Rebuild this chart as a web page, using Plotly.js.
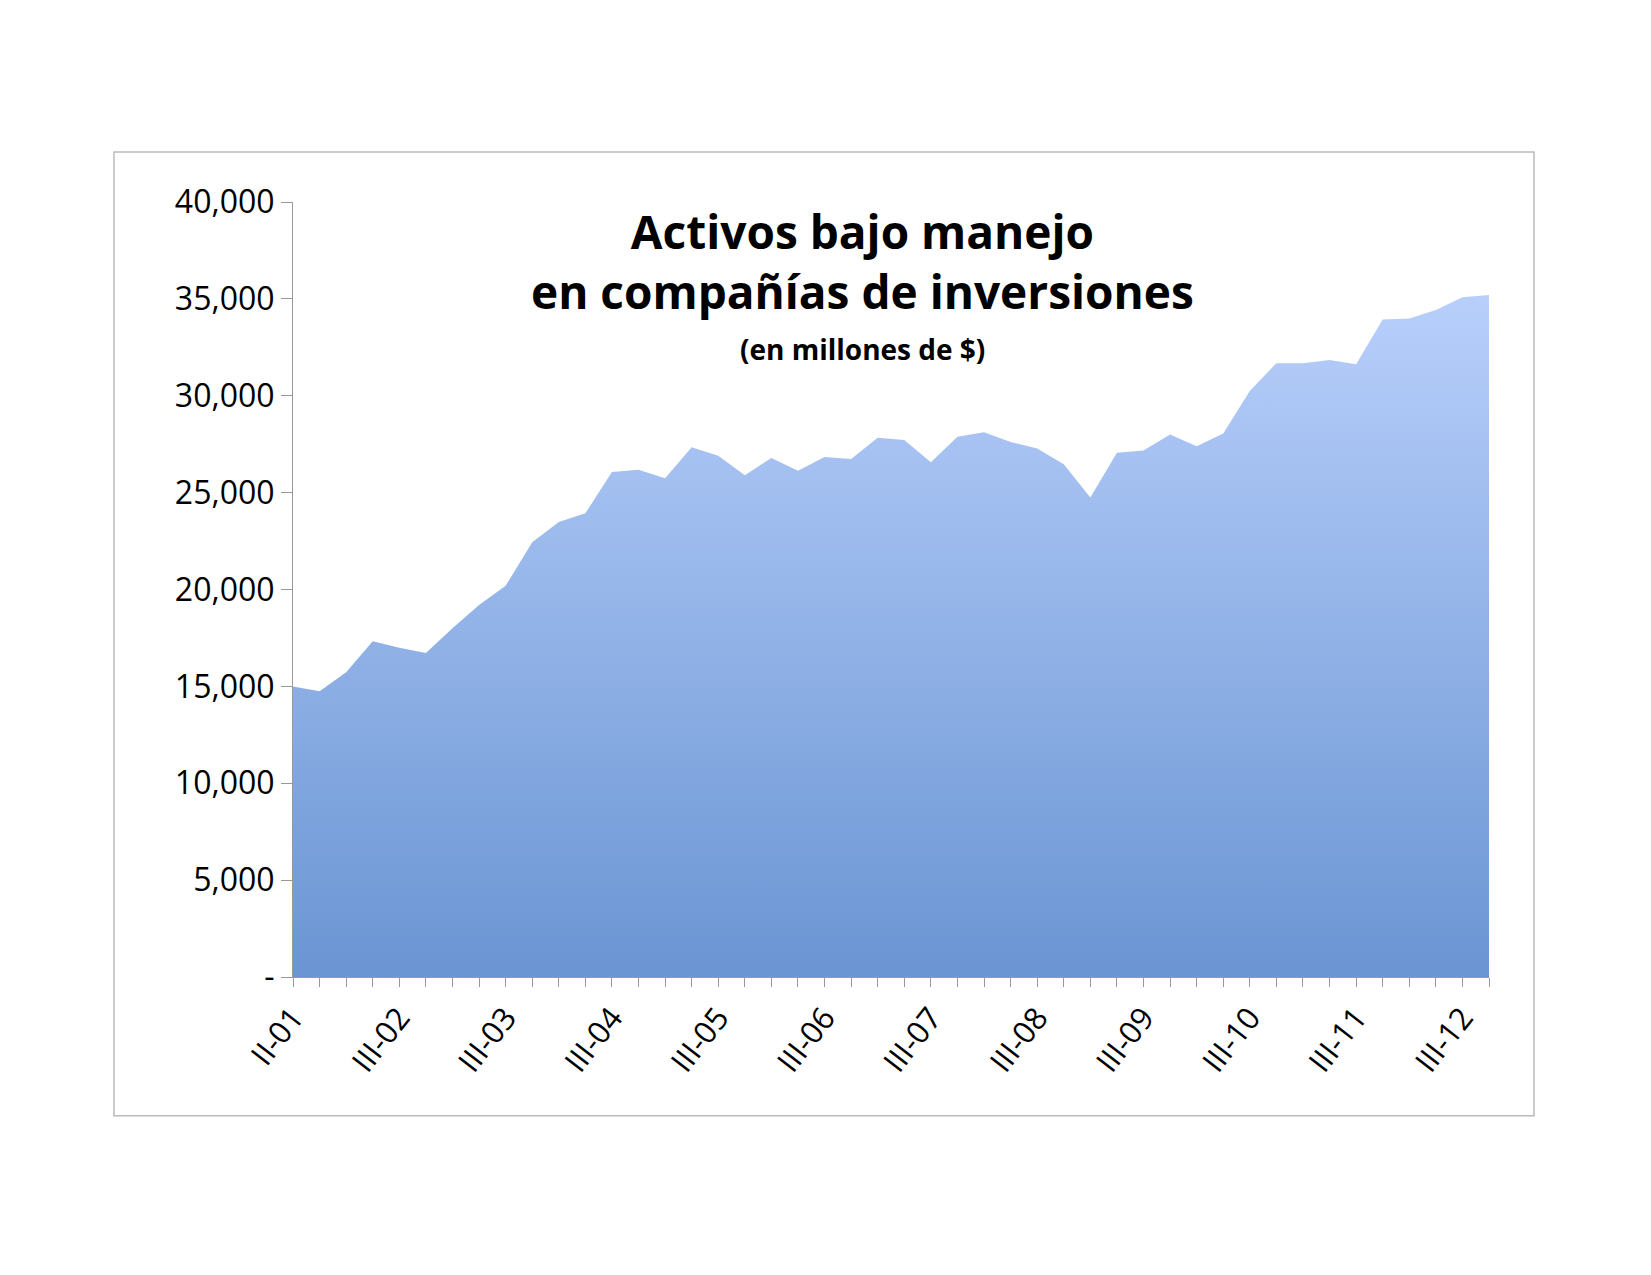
<!DOCTYPE html>
<html>
<head>
<meta charset="utf-8">
<script src="https://cdn.plot.ly/plotly-3.0.1.min.js"></script>
<style>body{margin:0;background:#fff}</style>
</head>
<body>
<div id="chart" style="width:1651px;height:1275px"></div>
<script>
// quarterly assets, millions of $
const assets = [15000, 14750, 15730, 17330, 17000, 16720, 18000, 19200, 20190, 22440,
  23490, 23930, 26070, 26180, 25740, 27340, 26900, 25900, 26790, 26130,
  26840, 26730, 27830, 27720, 26570, 27890, 28110, 27610, 27280, 26460,
  24750, 27060, 27170, 28000, 27390, 28050, 30250, 31680, 31680, 31850,
  31630, 33940, 33990, 34430, 35090, 35200];
const tickLabels = ['II-01', 'III-02', 'III-03', 'III-04', 'III-05', 'III-06',
  'III-07', 'III-08', 'III-09', 'III-10', 'III-11', 'III-12'];
const yTicks = [0, 5000, 10000, 15000, 20000, 25000, 30000, 35000, 40000];
const yTickText = ['-', '5,000', '10,000', '15,000', '20,000', '25,000', '30,000', '35,000', '40,000'];

const idx = assets.map((v, i) => i);
const xText = idx.map(i => (i % 4 === 0 ? tickLabels[i / 4] : ''));

Plotly.newPlot('chart', [{
  x: idx,
  y: assets,
  type: 'scatter',
  mode: 'lines',
  fill: 'tozeroy',
  line: { width: 0, color: '#9bb8ee' },
  fillgradient: {
    type: 'vertical',
    colorscale: [[0, '#6a95d3'], [1, '#b8cffb']]
  },
  hoverinfo: 'skip'
}], {
  width: 1651,
  height: 1275,
  showlegend: false,
  paper_bgcolor: '#fff',
  plot_bgcolor: '#fff',
  margin: { l: 293, r: 162, t: 202, b: 298 },
  font: { family: 'Open Sans, sans-serif', color: '#000' },
  xaxis: {
    range: [0, 45],
    tickvals: idx,
    ticktext: xText,
    tickangle: -52,
    tickfont: { size: 31 },
    ticks: 'outside',
    ticklen: 9,
    tickcolor: '#999',
    showline: true,
    linecolor: '#999',
    showgrid: false,
    zeroline: false
  },
  yaxis: {
    range: [0, 40000],
    tickvals: yTicks,
    ticktext: yTickText,
    tickfont: { size: 32 },
    ticks: 'outside',
    ticklen: 11,
    tickcolor: '#999',
    showline: true,
    linecolor: '#999',
    showgrid: false,
    zeroline: false
  },
  shapes: [{
    type: 'rect', xref: 'paper', yref: 'paper',
    x0: -0.1497, x1: 1.0376, y0: -0.179, y1: 1.0645,
    line: { color: '#bbb', width: 1.5 }
  }],
  annotations: [{
    xref: 'paper', yref: 'paper', x: 0.476, y: 1.005, yanchor: 'top',
    showarrow: false, align: 'center',
    text: '<b>Activos bajo manejo<br>en compañías de inversiones</b>',
    font: { size: 46, color: '#000' }
  }, {
    xref: 'paper', yref: 'paper', x: 0.476, y: 0.81, yanchor: 'middle',
    showarrow: false,
    text: '<b>(en millones de $)</b>',
    font: { size: 28, color: '#000' }
  }]
}, { displayModeBar: false });
</script>
</body>
</html>
